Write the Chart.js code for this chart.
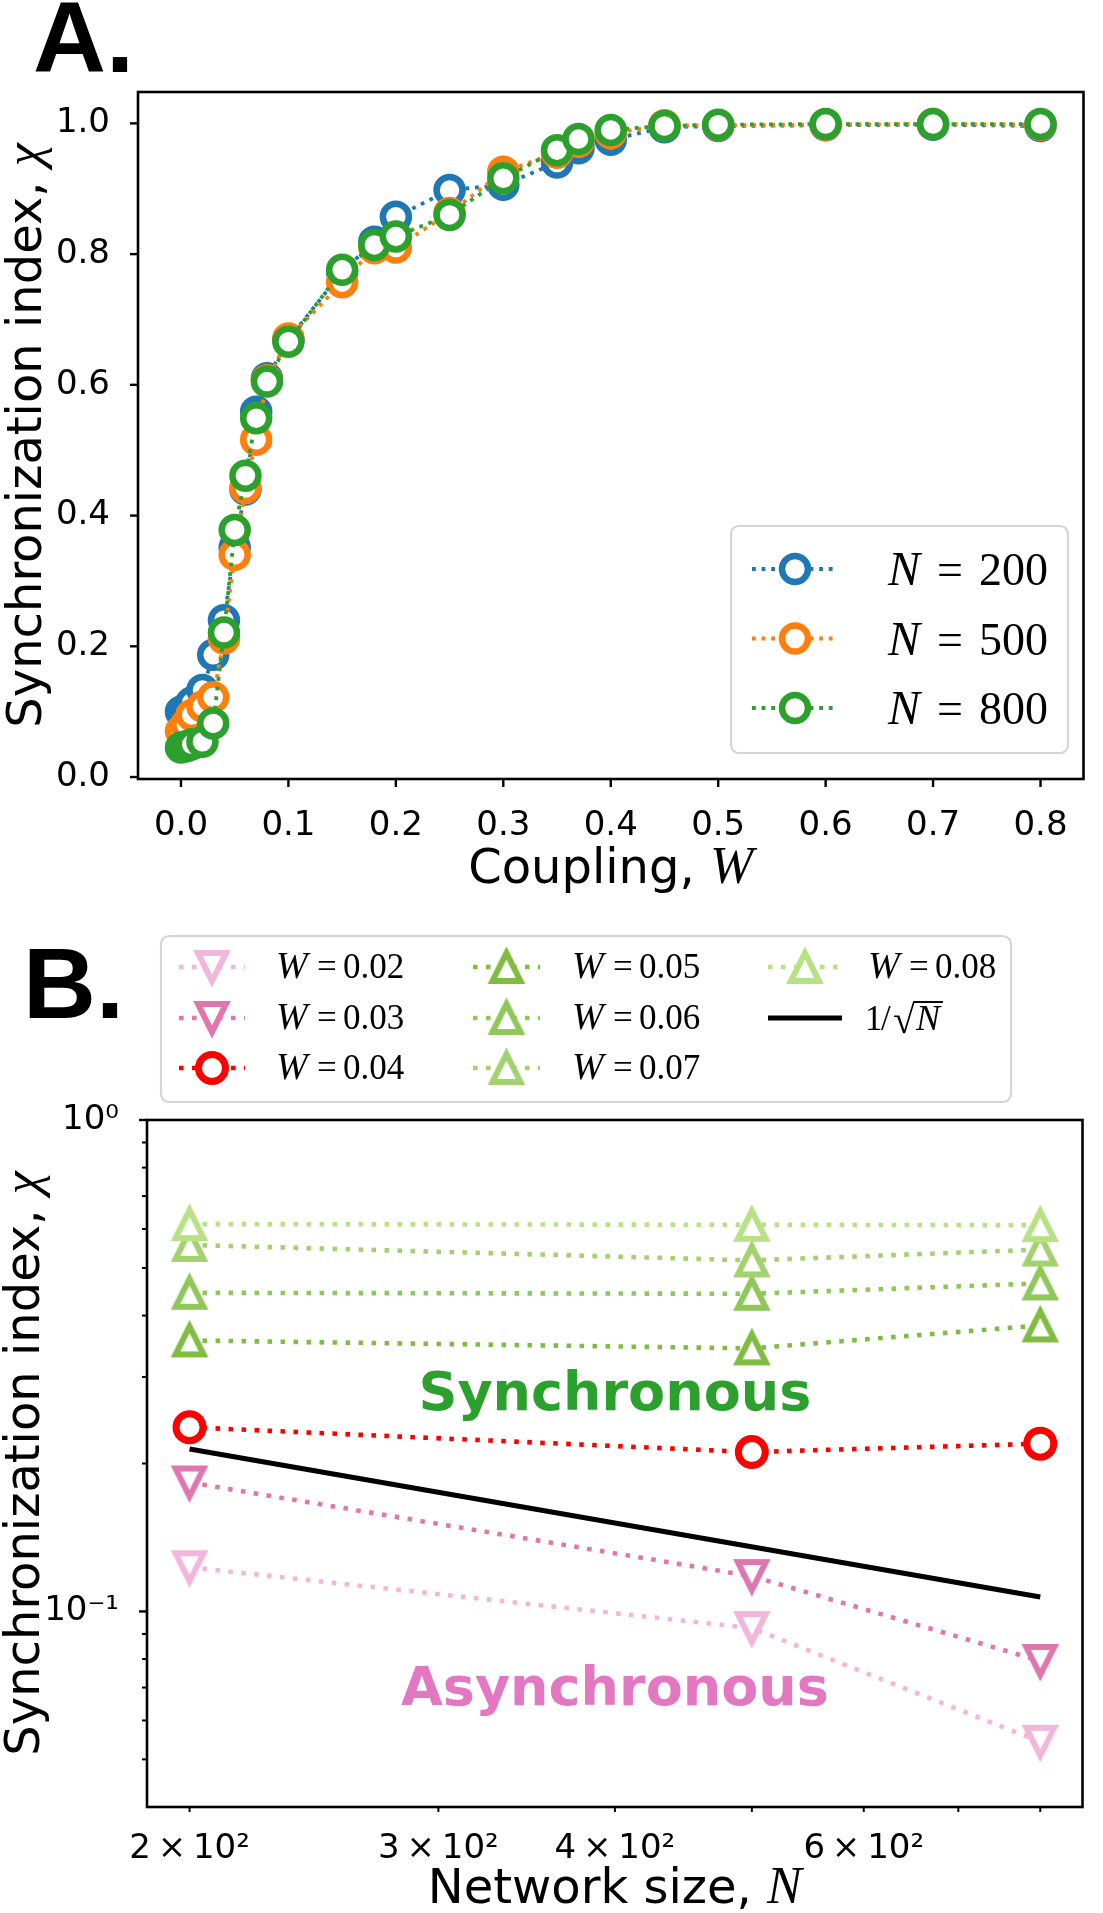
<!DOCTYPE html>
<html><head><meta charset="utf-8">
<script src="https://cdn.jsdelivr.net/npm/chart.js@4.4.1/dist/chart.umd.min.js"></script>
<style>
html,body{margin:0;padding:0;background:#fff;}
#wrap{position:relative;width:1103px;height:1913px;overflow:hidden;}
canvas{position:absolute;left:0;top:0;}
</style></head><body>
<div id="wrap"><canvas id="ca" width="1103" height="1913"></canvas><canvas id="cb" width="1103" height="1913"></canvas></div>
<script>
// ---------- Panel A data ----------
const couplingW = [0,0.005,0.01,0.02,0.03,0.04,0.05,0.06,0.07,0.08,0.1,0.15,0.18,0.2,0.25,0.3,0.35,0.37,0.4,0.45,0.5,0.6,0.7,0.8];
const chiN200 = [0.100,0.105,0.114,0.133,0.187,0.240,0.351,0.440,0.559,0.610,0.669,0.773,0.819,0.857,0.898,0.906,0.940,0.962,0.975,0.994,0.996,0.997,0.998,0.996];
const chiN500 = [0.070,0.080,0.095,0.108,0.122,0.212,0.340,0.442,0.516,0.607,0.671,0.757,0.809,0.810,0.863,0.926,0.955,0.972,0.985,0.997,0.997,0.998,0.999,0.998];
const chiN800 = [0.045,0.047,0.050,0.054,0.082,0.221,0.378,0.461,0.549,0.605,0.666,0.776,0.814,0.827,0.860,0.916,0.959,0.976,0.990,0.996,0.998,0.999,0.999,0.999];
const legendNA = ['200','500','800'];
const xTicksA = [0,0.1,0.2,0.3,0.4,0.5,0.6,0.7,0.8];
const xTickLabelsA = ['0.0','0.1','0.2','0.3','0.4','0.5','0.6','0.7','0.8'];
const yTicksA = [0,0.2,0.4,0.6,0.8,1.0];
const yTickLabelsA = ['0.0','0.2','0.4','0.6','0.8','1.0'];

// ---------- Panel B data ----------
const networkN = [200,500,800];
const chiW002 = [0.123,0.0925,0.0543];
const chiW003 = [0.183,0.118,0.0793];
const chiW004 = [0.237,0.211,0.2195];
const chiW005 = [0.356,0.343,0.382];
const chiW006 = [0.445,0.443,0.465];
const chiW007 = [0.557,0.518,0.545];
const chiW008 = [0.614,0.612,0.611];
const refN = [200,800];
const refChi = [0.214,0.107];
const legendWB = ['0.02','0.03','0.04','0.05','0.06','0.07','0.08'];
const xTicksB = [200,300,400,500,600,700,800];
const xTickLabelsB = ['2\u2009×\u200910²','3\u2009×\u200910²','4\u2009×\u200910²','','6\u2009×\u200910²','',''];
const yTicksB = [0.05,0.06,0.07,0.08,0.09,0.1,0.2,0.3,0.4,0.5,0.6,0.7,0.8,0.9,1];
const yMajorB = [0.1,1];
const yMajorLabelsB = ['10⁻¹','10⁰'];
const regionTexts = ['Synchronous','Asynchronous'];
const regionN = [400,400];
const regionChi = [0.257,0.0646];

// ---------- helpers ----------
const SANS = '"DejaVu Sans"';
const SERIF = '"Liberation Serif"';
function line(ctx,x1,y1,x2,y2){ctx.beginPath();ctx.moveTo(x1,y1);ctx.lineTo(x2,y2);ctx.stroke();}
function roundBox(ctx,x1,y1,x2,y2,r){
  ctx.save();ctx.beginPath();
  ctx.moveTo(x1+r,y1);ctx.lineTo(x2-r,y1);ctx.arcTo(x2,y1,x2,y1+r,r);
  ctx.lineTo(x2,y2-r);ctx.arcTo(x2,y2,x2-r,y2,r);
  ctx.lineTo(x1+r,y2);ctx.arcTo(x1,y2,x1,y2-r,r);
  ctx.lineTo(x1,y1+r);ctx.arcTo(x1,y1,x1+r,y1,r);ctx.closePath();
  ctx.fillStyle='rgba(255,255,255,0.85)';ctx.fill();
  ctx.lineWidth=2.2;ctx.strokeStyle='#d5d5d5';ctx.stroke();ctx.restore();
}
function runs(ctx,list,x,y){
  ctx.textAlign='left';ctx.textBaseline='alphabetic';
  list.forEach(([dx,t,f])=>{ctx.font=f;ctx.fillText(t,x+dx,y);});
}
function seqWidth(ctx,list){let w=0;list.forEach(([t,f])=>{ctx.font=f;w+=ctx.measureText(t).width;});return w;}
function seq(ctx,list,x,y){
  ctx.textAlign='left';ctx.textBaseline='alphabetic';
  let cx=x;list.forEach(([t,f])=>{ctx.font=f;ctx.fillText(t,cx,y);cx+=ctx.measureText(t).width;});
}
function triCanvas(color,up){
  const c=document.createElement('canvas');c.width=c.height=52;
  const g=c.getContext('2d');const m=26,h=14;
  g.beginPath();
  if(up){g.moveTo(m,m-h);g.lineTo(m+h,m+h);g.lineTo(m-h,m+h);}
  else{g.moveTo(m,m+h);g.lineTo(m+h,m-h);g.lineTo(m-h,m-h);}
  g.closePath();g.fillStyle='#fff';g.fill();
  g.lineWidth=6;g.lineJoin='miter';g.miterLimit=10;g.strokeStyle=color;g.stroke();
  return c;
}
function drawMarker(ctx,ds,x,y){
  const st=ds.pointStyle;
  if(st && typeof st==='object'){ctx.drawImage(st,x-st.width/2,y-st.height/2);return;}
  if(!ds.pointRadius) return;
  ctx.beginPath();ctx.arc(x,y,ds.pointRadius,0,Math.PI*2);
  ctx.fillStyle='#fff';ctx.fill();ctx.lineWidth=ds.pointBorderWidth;ctx.setLineDash([]);
  ctx.strokeStyle=ds.pointBorderColor;ctx.stroke();
}
function drawHandle(ctx,ds,x1,x2,y){
  ctx.save();
  ctx.strokeStyle=ds.borderColor;ctx.lineWidth=ds.borderWidth;ctx.setLineDash(ds.borderDash||[]);
  ctx.lineCap='butt';line(ctx,x1,y,x2,y);ctx.setLineDash([]);
  drawMarker(ctx,ds,(x1+x2)/2,y);
  ctx.restore();
}
// 1/sqrt(N) label: text glyphs, vinculum attached to the radical glyph
function drawInvSqrt(ctx,x,y){
  ctx.textAlign='left';ctx.textBaseline='alphabetic';ctx.fillStyle='#000';
  ctx.font='35px '+SERIF;ctx.fillText('1',x-3,y);
  ctx.fillText('/',x+13,y);
  ctx.font='40px '+SERIF;
  const rx=x+25;ctx.fillText('√',rx,y+3);
  const m=ctx.measureText('√');
  const topY=y+3-m.actualBoundingBoxAscent;
  const rr=rx+m.actualBoundingBoxRight;
  ctx.font='italic 36px '+SERIF;
  const nx=rr+1;ctx.fillText('N',nx,y);
  const nw=ctx.measureText('N').width;
  ctx.strokeStyle='#000';ctx.lineWidth=2;
  line(ctx,rr-1.5,topY+1,nx+nw+3,topY+1);
}

Chart.defaults.font.family='DejaVu Sans';
Chart.defaults.color='#000';

// ---------- Panel A ----------
const colA=['#1f77b4','#ff7f0e','#2ca02c'];
const seriesA=[chiN200,chiN500,chiN800];
const dsA=seriesA.map((arr,i)=>({
  label:'N = '+legendNA[i],
  data:couplingW.map((w,j)=>({x:w,y:arr[j]})),
  borderColor:colA[i],backgroundColor:'#fff',borderWidth:3.8,borderDash:[3.8,5.8],
  pointStyle:'circle',pointRadius:13,pointBorderWidth:6.5,pointBackgroundColor:'#fff',pointBorderColor:colA[i],
  tension:0,fill:false,clip:false,order:3-i
}));

const pluginA={
  id:'panelA',
  afterDatasetsDraw(chart){
    const {ctx,chartArea:ca,scales:{x,y}}=chart;
    ctx.save();ctx.strokeStyle='#000';ctx.lineWidth=2.6;ctx.setLineDash([]);
    ctx.strokeRect(ca.left,ca.top,ca.right-ca.left,ca.bottom-ca.top);
    ctx.lineWidth=2.4;
    x.ticks.forEach(t=>{const p=x.getPixelForValue(t.value);line(ctx,p,ca.bottom,p,ca.bottom+8);});
    y.ticks.forEach(t=>{const p=y.getPixelForValue(t.value);line(ctx,ca.left,p,ca.left-8,p);});
    ctx.restore();
  },
  afterDraw(chart){
    const {ctx,chartArea:ca}=chart;
    ctx.save();
    roundBox(ctx,731,526,1068,753,8);
    const rows=[569,638.5,708];
    chart.data.datasets.forEach((ds,i)=>{
      drawHandle(ctx,ds,752,838,rows[i]);
      ctx.fillStyle='#000';
      runs(ctx,[[0,'N','italic 48px '+SERIF],[49,'=','46px '+SERIF],[91,legendNA[i],'46px '+SERIF]],888,rows[i]+16);
    });
    ctx.fillStyle='#000';
    const xt=[['Coupling, ','48px '+SANS],['W','italic 52px '+SERIF]];
    seq(ctx,xt,(ca.left+ca.right)/2-seqWidth(ctx,xt)/2,883);
    const yt=[['Synchronization index, ','48px '+SANS],['χ','italic 52px '+SERIF]];
    ctx.save();ctx.translate(41,(ca.top+ca.bottom)/2);ctx.rotate(-Math.PI/2);
    seq(ctx,yt,-seqWidth(ctx,yt)/2,0);ctx.restore();
    ctx.font='bold 101px "Liberation Sans"';ctx.textAlign='left';ctx.textBaseline='alphabetic';
    ctx.fillText('A.',33,72);
    ctx.restore();
  }
};

new Chart(document.getElementById('ca'),{
  type:'line',
  data:{datasets:dsA},
  options:{
    responsive:false,animation:false,devicePixelRatio:1,events:[],
    layout:{padding:{left:0,top:92,right:9,bottom:1074}},
    plugins:{legend:{display:false},tooltip:{enabled:false}},
    scales:{
      x:{type:'linear',min:-0.04,max:0.84,
        afterBuildTicks:s=>{s.ticks=xTicksA.map(v=>({value:v}));},
        afterFit:s=>{s.height=60;},
        grid:{display:false},border:{display:false},
        ticks:{autoSkip:false,maxRotation:0,padding:19,font:{size:34},color:'#000',
          callback:(v,i)=>xTickLabelsA[i]}},
      y:{type:'linear',min:-0.003,max:1.048,
        afterBuildTicks:s=>{s.ticks=yTicksA.map(v=>({value:v}));},
        afterFit:s=>{s.width=138;},
        grid:{display:false},border:{display:false},
        ticks:{autoSkip:false,padding:20,font:{size:34},color:'#000',
          callback:(v,i)=>yTickLabelsA[i]}}
    }
  },
  plugins:[pluginA]
});

// ---------- Panel B ----------
const colB=['#f1b6da','#de77ae','#ff0000','#7fbc41','#8fc758','#a3d16f','#b8e186'];
const seriesB=[chiW002,chiW003,chiW004,chiW005,chiW006,chiW007,chiW008];
const styleB=[triCanvas(colB[0],false),triCanvas(colB[1],false),'circle',
  triCanvas(colB[3],true),triCanvas(colB[4],true),triCanvas(colB[5],true),triCanvas(colB[6],true)];
const dsB=seriesB.map((arr,i)=>({
  label:'W = '+legendWB[i],
  data:networkN.map((n,j)=>({x:n,y:arr[j]})),
  borderColor:colB[i],borderWidth:4.6,borderDash:[4.6,8.4],
  pointStyle:styleB[i],pointRadius:13.5,pointBorderWidth:7,pointBackgroundColor:'#fff',pointBorderColor:colB[i],
  tension:0,fill:false,clip:false,order:20-i
}));
dsB.push({
  label:'1/√N',data:refN.map((n,j)=>({x:n,y:refChi[j]})),
  borderColor:'#000',borderWidth:5,borderDash:[],pointRadius:0,pointStyle:'circle',
  tension:0,fill:false,clip:false,order:1
});

const pluginB={
  id:'panelB',
  afterDatasetsDraw(chart){
    const {ctx,chartArea:ca,scales:{x,y}}=chart;
    ctx.save();
    ctx.font='bold 54px '+SANS;ctx.textAlign='center';ctx.textBaseline='alphabetic';
    const rc=['#2ca02c','#e377c2'];
    regionTexts.forEach((t,i)=>{ctx.fillStyle=rc[i];ctx.fillText(t,x.getPixelForValue(regionN[i]),y.getPixelForValue(regionChi[i]));});
    ctx.strokeStyle='#000';ctx.lineWidth=2.6;ctx.setLineDash([]);
    ctx.strokeRect(ca.left,ca.top,ca.right-ca.left,ca.bottom-ca.top);
    ctx.lineWidth=2;
    x.ticks.forEach(t=>{const p=x.getPixelForValue(t.value);line(ctx,p,ca.bottom,p,ca.bottom+5);});
    y.ticks.forEach(t=>{const p=y.getPixelForValue(t.value);const mj=yMajorB.includes(t.value);
      ctx.lineWidth=mj?2.4:2;line(ctx,ca.left,p,ca.left-(mj?8:5),p);});
    ctx.restore();
  },
  afterDraw(chart){
    const {ctx,chartArea:ca}=chart;
    ctx.save();
    roundBox(ctx,161,936,1011,1102,8);
    const rows=[967,1018,1068];
    const cols=[[179,245,276],[473,540,572],[768,842,868]];
    chart.data.datasets.forEach((d,i)=>{
      const c=cols[Math.floor(i/3)],r=rows[i%3];
      drawHandle(ctx,d,c[0],c[1],r);
      ctx.fillStyle='#000';
      if(i<7){
        runs(ctx,[[0,'W','italic 38px '+SERIF],[41,'=','35px '+SERIF],[67,legendWB[i],'35px '+SERIF]],c[2],r+11);
      }else{
        drawInvSqrt(ctx,c[2],r+12);
      }
    });
    ctx.fillStyle='#000';
    const xt=[['Network size, ','48px '+SANS],['N','italic 52px '+SERIF]];
    seq(ctx,xt,(ca.left+ca.right)/2-seqWidth(ctx,xt)/2,1903);
    const yt=[['Synchronization index, ','48px '+SANS],['χ','italic 52px '+SERIF]];
    ctx.save();ctx.translate(39,(ca.top+ca.bottom)/2);ctx.rotate(-Math.PI/2);
    seq(ctx,yt,-seqWidth(ctx,yt)/2,0);ctx.restore();
    ctx.font='bold 101px "Liberation Sans"';ctx.textAlign='left';ctx.textBaseline='alphabetic';
    ctx.fillText('B.',23,1018);
    ctx.restore();
  }
};

new Chart(document.getElementById('cb'),{
  type:'line',
  data:{datasets:dsB},
  options:{
    responsive:false,animation:false,devicePixelRatio:1,events:[],
    layout:{padding:{left:0,top:1120,right:5,bottom:46}},
    plugins:{legend:{display:false},tooltip:{enabled:false}},
    scales:{
      x:{type:'logarithmic',min:186.6,max:857,
        afterBuildTicks:s=>{s.ticks=xTicksB.map(v=>({value:v}));},
        afterFit:s=>{s.height=60;},
        grid:{display:false},border:{display:false},
        ticks:{autoSkip:false,maxRotation:0,padding:14,font:{size:34},color:'#000',
          callback:(v,i)=>xTickLabelsB[i]}},
      y:{type:'logarithmic',min:0.04,max:1,
        afterBuildTicks:s=>{s.ticks=yTicksB.map(v=>({value:v}));},
        afterFit:s=>{s.width=147;},
        grid:{display:false},border:{display:false},
        ticks:{autoSkip:false,padding:20,font:{size:34},color:'#000',
          callback:(v,i)=>{const k=yMajorB.indexOf(yTicksB[i]);return k>=0?yMajorLabelsB[k]:'';}}}
    }
  },
  plugins:[pluginB]
});
</script>
</body></html>
